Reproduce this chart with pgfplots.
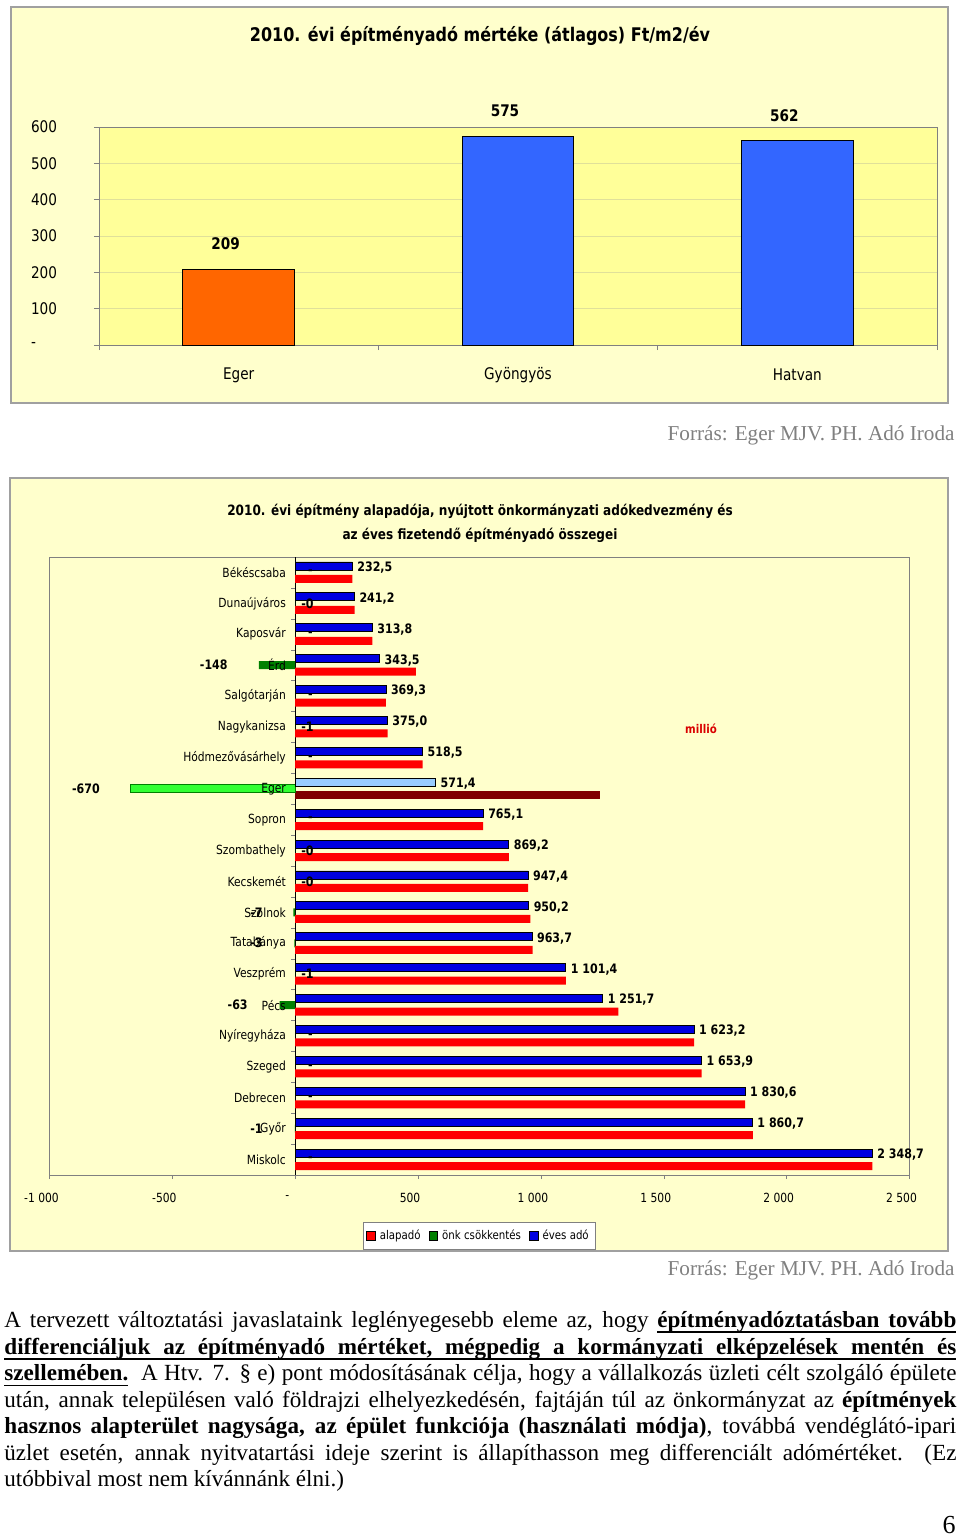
\documentclass[border=0pt]{standalone}
\usepackage{pgfplots}
\pgfplotsset{compat=1.18}
\usepackage{fontspec}
\setmainfont{Liberation Serif}
\newfontfamily\cf[FakeStretch=0.85]{DejaVu Sans}

% underlined words with stretchable underlined spaces
\newcommand\uw[1]{\leavevmode\setbox0\hbox{#1}\rlap{\vrule height -2.0pt depth 2.8pt width \wd0}\box0}
\newcommand\us{\leaders\hrule height -2.0pt depth 2.8pt\hskip\fontdimen2\font plus\fontdimen3\font minus\fontdimen4\font}
\def\ulword#1 #2\ulend{\uw{#1}\ifx\relax#2\relax\else\us\ulword#2\ulend\fi}
\newcommand\ul[1]{\ulword#1 \ulend}

\definecolor{chartbg}{HTML}{FFFFCC}
\definecolor{plotbg}{HTML}{FFFF99}
\definecolor{gridy}{HTML}{E0E09A}
\definecolor{framegray}{HTML}{A0A0A0}
\definecolor{orangebar}{HTML}{FF6600}
\definecolor{bluebar}{HTML}{3366FF}
\definecolor{alapred}{HTML}{FF0000}
\definecolor{onkgreen}{HTML}{008000}
\definecolor{evesblue}{HTML}{0000E0}
\definecolor{egerblue}{HTML}{99CCFF}
\definecolor{egerred}{HTML}{800000}
\definecolor{egergreen}{HTML}{33FF33}
\definecolor{forras}{HTML}{808080}

\begin{document}
\begin{tikzpicture}
\useasboundingbox (0,0) rectangle (480pt,-768.5pt);
\fill[white] (0,0) rectangle (480pt,-768.5pt);

% ---- chart 1 ----
\draw[framegray, line width=0.8pt, fill=chartbg] (5.5pt,-3.5pt) rectangle (474pt,-201.5pt);
\node[font=\cf\bfseries\fontsize{9.4}{11}\selectfont] at (240pt,-18pt)
  {2010. évi építményadó mértéke (átlagos) Ft/m2/év};

\begin{axis}[
  at={(49.5pt,-172.5pt)}, anchor=south west,
  scale only axis, width=419pt, height=109pt,
  xmin=-0.5, xmax=2.5, ymin=0, ymax=600,
  axis background/.style={fill=plotbg},
  axis line style={gray},
  ymajorgrids, grid style={gridy},
  ytick={0,100,...,600}, yticklabels={-,100,200,300,400,500,600},
  yticklabel style={anchor=west, xshift=-35pt},
  tick pos=left, tick align=outside, major tick length=2.5pt, tick style={gray},
  xtick={-0.5,0.5,1.5,2.5}, xticklabels={},
  extra x ticks={0,1,2}, extra x tick labels={Eger,Gyöngyös,Hatvan},
  extra x tick style={major tick length=0pt, xticklabel style={anchor=center, yshift=-15pt}},
  ticklabel style={font=\cf\fontsize{8}{9.6}\selectfont},
  nodes near coords style={font=\cf\bfseries\fontsize{8}{9.6}\selectfont, anchor=center, yshift=12.5pt, xshift=-6.5pt},
]
\addplot[ybar, bar width=0.4, bar shift=0pt, fill=orangebar, draw=black, line width=0.5pt,
  nodes near coords, point meta=explicit symbolic] coordinates {(0,209) [209]};
\addplot[ybar, bar width=0.4, bar shift=0pt, fill=bluebar, draw=black, line width=0.5pt,
  nodes near coords, point meta=explicit symbolic] coordinates {(1,575) [575] (2,562) [562]};
\end{axis}

\node[anchor=east, inner sep=0pt, font=\fontsize{10.6}{12}\selectfont, text=forras] at (477.5pt,-217.5pt)
  {Forrás: Eger MJV. PH. Adó Iroda};

% ---- chart 2 ----
\draw[framegray, line width=0.8pt, fill=chartbg] (5pt,-239pt) rectangle (474pt,-625.5pt);
\node[font=\cf\bfseries\fontsize{7.1}{8.5}\selectfont] at (240pt,-255.5pt)
  {2010. évi építmény alapadója, nyújtott önkormányzati adókedvezmény és};
\node[font=\cf\bfseries\fontsize{7.1}{8.5}\selectfont] at (240pt,-267.5pt)
  {az éves fizetendő építményadó összegei};

\begin{axis}[
  at={(24.75pt,-587.5pt)}, anchor=south west,
  scale only axis, width=430pt, height=309pt,
  xmin=-1000, xmax=2500, ymin=-0.5, ymax=19.5,
  axis background/.style={fill=chartbg, draw=gray},
  axis x line=bottom, axis y line=middle, axis line style={-},
  x axis line style={gray}, y axis line style={black},
  hide obscured x ticks=false,
  xtick={-1000,-500,...,2500},
  xticklabels={-1 000,-500,-,500,1 000,1 500,2 000,2 500},
  xticklabel style={anchor=center, yshift=-9.5pt, xshift=-4pt},
  ytick={-0.5,0.5,...,19.5}, yticklabels={},
  tick align=outside, major tick length=2pt, tick style={gray},
  ticklabel style={font=\cf\fontsize{6.3}{7.5}\selectfont},
  legend style={at={(0.5,-0.099)}, anchor=center, legend columns=3, draw=gray, fill=white,
    font=\cf\fontsize{6}{7}\selectfont, inner sep=1.5pt,
    /tikz/every even column/.append style={column sep=2pt}},
  legend image code/.code={\draw[#1] (0pt,-2.2pt) rectangle (4.4pt,2.2pt);},
]
% alapado
\addplot[xbar, bar width=4pt, bar shift=-3.25pt, fill=alapred, draw=none] coordinates {
 (232.5,19) (241.5,18) (313.8,17) (491.5,16) (369.3,15) (375.6,14) (518.5,13)
 (765.1,11) (869.5,10) (947.7,9) (957.2,8) (966.7,7) (1102.0,6) (1314.7,5)
 (1623.2,4) (1653.9,3) (1830.6,2) (1862.1,1) (2348.7,0)};
\addlegendentry{alapadó}
% onk csokkentes
\addplot[xbar, bar width=4pt, bar shift=0pt, fill=onkgreen, draw=none] coordinates {
 (-0.3,18) (-148,16) (-0.6,14) (-0.3,10) (-0.3,9) (-7,8) (-3,7) (-0.6,6) (-63,5) (-1.4,1)};
\addlegendentry{önk csökkentés}
% eves ado
\addplot[xbar, bar width=4pt, bar shift=3.25pt, fill=evesblue, draw=black, line width=0.4pt,
  nodes near coords, point meta=explicit symbolic,
  nodes near coords style={anchor=west, xshift=-1pt, yshift=2.5pt, font=\cf\bfseries\fontsize{6.5}{7.5}\selectfont}]
  coordinates {
 (232.5,19) [232,5] (241.2,18) [241,2] (313.8,17) [313,8] (343.5,16) [343,5]
 (369.3,15) [369,3] (375.0,14) [375,0] (518.5,13) [518,5]
 (765.1,11) [765,1] (869.2,10) [869,2] (947.4,9) [947,4] (950.2,8) [950,2]
 (963.7,7) [963,7] (1101.4,6) [1 101,4] (1251.7,5) [1 251,7] (1623.2,4) [1 623,2]
 (1653.9,3) [1 653,9] (1830.6,2) [1 830,6] (1860.7,1) [1 860,7] (2348.7,0) [2 348,7]};
\addlegendentry{éves adó}
% Eger
\addplot[forget plot, xbar, bar width=4pt, bar shift=-3.25pt, fill=egerred, draw=none] coordinates {(1241.4,12)};
\addplot[forget plot, xbar, bar width=4pt, bar shift=0pt, fill=egergreen, draw=onkgreen, line width=0.4pt] coordinates {(-670,12)};
\addplot[forget plot, xbar, bar width=4pt, bar shift=3.25pt, fill=egerblue, draw=black, line width=0.4pt,
  nodes near coords, point meta=explicit symbolic,
  nodes near coords style={anchor=west, xshift=-1pt, yshift=2.5pt, font=\cf\bfseries\fontsize{6.5}{7.5}\selectfont}]
  coordinates {(571.4,12) [571,4]};
% labels of onk csokkentes
\addplot[forget plot, draw=none, mark=none, nodes near coords, point meta=explicit symbolic,
  nodes near coords style={anchor=east, inner sep=0pt, font=\cf\bfseries\fontsize{6.5}{7.5}\selectfont}]
  coordinates {(-273.5,16) [-148] (-794,12) [-670] (-192,5) [-63] (-131,8) [-7] (-131,7) [-3] (-131,1) [-1]};
\addplot[forget plot, draw=none, mark=none, nodes near coords, point meta=explicit symbolic,
  nodes near coords style={anchor=west, inner sep=0pt, font=\cf\bfseries\fontsize{6.5}{7.5}\selectfont}]
  coordinates {(23,18) [-0] (23,14) [-1] (23,10) [-0] (23,9) [-0] (23,6) [-1]};
\addplot[forget plot, draw=none, mark=none, nodes near coords, point meta=explicit symbolic,
  nodes near coords style={anchor=center, inner sep=0pt, font=\cf\bfseries\fontsize{6.5}{7.5}\selectfont}]
  coordinates {(62,19) [-] (62,17) [-] (62,15) [-] (62,13) [-] (62,11) [-] (62,4) [-] (62,3) [-] (62,2) [-] (62,0) [-]};
% category names
\addplot[forget plot, draw=none, mark=none, nodes near coords, point meta=explicit symbolic,
  nodes near coords style={anchor=east, xshift=-4.5pt, inner sep=0pt, font=\cf\fontsize{6.3}{7.5}\selectfont}]
  coordinates {
 (0,19) [Békéscsaba] (0,18) [Dunaújváros] (0,17) [Kaposvár] (0,16) [Érd]
 (0,15) [Salgótarján] (0,14) [Nagykanizsa] (0,13) [Hódmezővásárhely] (0,12) [Eger]
 (0,11) [Sopron] (0,10) [Szombathely] (0,9) [Kecskemét] (0,8) [Szolnok]
 (0,7) [Tatabánya] (0,6) [Veszprém] (0,5) [Pécs] (0,4) [Nyíregyháza]
 (0,3) [Szeged] (0,2) [Debrecen] (0,1) [Győr] (0,0) [Miskolc]};
\end{axis}

\node[font=\cf\bfseries\fontsize{6}{7}\selectfont, text=alapred!85!black] at (350.5pt,-364.5pt) {millió};

\node[anchor=east, inner sep=0pt, font=\fontsize{10.6}{12}\selectfont, text=forras] at (477.5pt,-635pt)
  {Forrás: Eger MJV. PH. Adó Iroda};

% ---- text ----
\node[anchor=north west, inner sep=0pt, text width=476pt, align=justify,
  font=\fontsize{11.56}{13.29}\selectfont] at (2pt,-655.5pt) {%
A tervezett változtatási javaslataink leglényegesebb eleme az, hogy \textbf{\ul{építményadóztatásban tovább}}\linebreak
\textbf{\ul{differenciáljuk az építményadó mértéket, mégpedig a kormányzati elképzelések mentén és}}\linebreak
\textbf{\ul{szellemében.}}\ \ A Htv. 7. § e) pont módosításának célja, hogy a vállalkozás üzleti célt szolgáló épülete\linebreak
után, annak településen való földrajzi elhelyezkedésén, fajtáján túl az önkormányzat az \textbf{építmények}\linebreak
\textbf{hasznos alapterület nagysága, az épület funkciója (használati módja)}, továbbá vendéglátó-ipari\linebreak
üzlet esetén, annak nyitvatartási ideje szerint is állapíthasson meg differenciált adómértéket. (Ez\linebreak
utóbbival most nem kívánnánk élni.)};

\node[anchor=east, inner sep=0pt, font=\fontsize{13}{15}\selectfont] at (478pt,-762.5pt) {6};
\end{tikzpicture}
\end{document}
